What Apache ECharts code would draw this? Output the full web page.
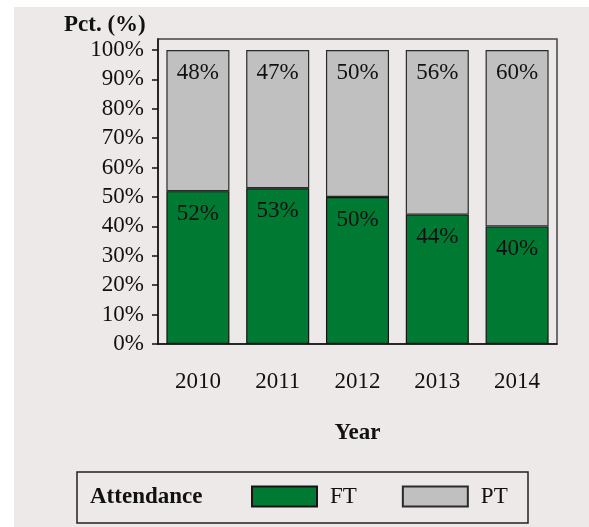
<!DOCTYPE html>
<html>
<head>
<meta charset="utf-8">
<script src="https://cdn.jsdelivr.net/npm/echarts@6/dist/echarts.min.js"></script>
<style>
  html, body { margin: 0; padding: 0; background: #ffffff; }
  #chart { position: absolute; left: 14px; top: 7px; width: 575px; height: 520px; }
</style>
</head>
<body>
<div id="chart"></div>
<script>
// data
const years = ['2010', '2011', '2012', '2013', '2014']
const ftValues = [52, 53, 50, 44, 40]
const ptValues = [48, 47, 50, 56, 60]
const yTicks = [0, 10, 20, 30, 40, 50, 60, 70, 80, 90, 100]

const serif = '"Liberation Serif", "DejaVu Serif", serif'
const chart = echarts.init(document.getElementById('chart'))

const labelStyle = {
  show: true,
  position: 'insideTop',
  distance: 11,
  color: '#111',
  fontFamily: serif,
  fontSize: 23,
  formatter: p => p.value + '%'
}

chart.setOption({
  backgroundColor: '#EDE9E8',
  animation: false,
  title: {
    text: 'Pct. (%)',
    left: 45,
    top: 2,
    textStyle: { fontFamily: serif, fontSize: 23, fontWeight: 'bold', color: '#111' }
  },
  grid: {
    left: 144,
    right: 32,
    top: 32,
    bottom: 183,
    show: true,
    borderColor: '#444',
    borderWidth: 1.5,
    backgroundColor: 'transparent'
  },
  legend: {
    data: ['FT', 'PT'],
    left: 237,
    top: 478,
    padding: 0,
    itemWidth: 65,
    itemHeight: 20,
    itemGap: 45,
    icon: 'rect',
    textStyle: { fontFamily: serif, fontSize: 23, color: '#111', padding: [0, 0, 0, 8] }
  },
  graphic: [
    {
      type: 'rect',
      shape: { x: 63, y: 465, width: 451, height: 51 },
      style: { fill: 'transparent', stroke: '#222', lineWidth: 1.5 }
    },
    {
      type: 'text',
      x: 76,
      y: 490,
      style: {
        text: 'Attendance',
        fontFamily: serif,
        fontSize: 23,
        fontWeight: 'bold',
        fill: '#111',
        verticalAlign: 'middle'
      }
    }
  ],
  xAxis: {
    type: 'category',
    data: years,
    name: 'Year',
    nameLocation: 'middle',
    nameGap: 78,
    nameTextStyle: { fontFamily: serif, fontSize: 23, fontWeight: 'bold', color: '#111' },
    axisLine: { lineStyle: { color: '#111', width: 1.5 } },
    axisTick: { show: false },
    axisLabel: { margin: 26, fontFamily: serif, fontSize: 23, color: '#111' },
    splitLine: { show: false }
  },
  yAxis: {
    type: 'value',
    min: 0,
    max: 103.75,
    interval: 10,
    axisLine: { show: true, lineStyle: { color: '#111', width: 1.5 } },
    axisTick: { show: true, length: 6, customValues: yTicks, lineStyle: { color: '#111', width: 1.5 } },
    axisLabel: {
      margin: 14,
      customValues: yTicks,
      fontFamily: serif,
      fontSize: 23,
      color: '#111',
      formatter: v => v + '%'
    },
    splitLine: { show: false }
  },
  series: [
    {
      name: 'FT',
      type: 'bar',
      stack: 'total',
      barWidth: '79%',
      data: ftValues,
      itemStyle: { color: '#007A33', borderColor: '#151515', borderWidth: 1.2 },
      label: labelStyle
    },
    {
      name: 'PT',
      type: 'bar',
      stack: 'total',
      barWidth: '79%',
      data: ptValues,
      itemStyle: { color: '#C0C0C0', borderColor: '#2a2a2a', borderWidth: 1.2 },
      label: labelStyle
    }
  ]
})

window.addEventListener('resize', () => chart.resize())
</script>
</body>
</html>
